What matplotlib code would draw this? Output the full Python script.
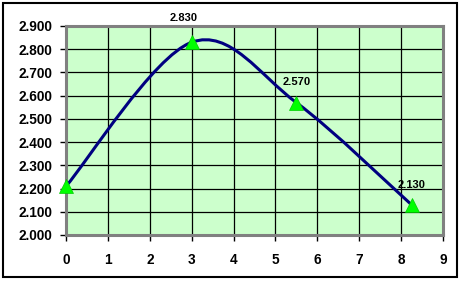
import numpy as np
import matplotlib
matplotlib.use("Agg")
import matplotlib.pyplot as plt
from matplotlib.path import Path
from matplotlib.patches import PathPatch, Rectangle

# data
x_vals = [0.0, 3.0, 5.5, 8.25]
y_vals = [2.21, 2.83, 2.57, 2.13]
labelled = [False, True, True, True]
x_ticks = list(range(0, 10))
y_ticks = [2.0, 2.1, 2.2, 2.3, 2.4, 2.5, 2.6, 2.7, 2.8, 2.9]

# label offsets (points) for the data labels
label_offsets = [(0, 11), (-6, 14), (0, 11), (0, 11)]

plt.rcParams["font.family"] = ["Liberation Sans", "DejaVu Sans"]

fig = plt.figure(figsize=(4.62, 2.81), dpi=100)
ax = fig.add_axes([66 / 462, 1 - 235 / 281, (443 - 66) / 462, (235 - 26) / 281])
ax.set_facecolor("#CCFFCC")

# smoothed line like Excel: cubic bezier segments through the points
pts = np.column_stack([x_vals, y_vals])
verts = [tuple(pts[0])]
codes = [Path.MOVETO]
n = len(pts)
for i in range(n - 1):
    p_prev = pts[i - 1] if i > 0 else pts[i]
    p0 = pts[i]
    p1 = pts[i + 1]
    p_next = pts[i + 2] if i + 2 < n else p1
    c1 = p0 + (p1 - p_prev) / 6.0
    c2 = p1 - (p_next - p0) / 6.0
    verts += [tuple(c1), tuple(c2), tuple(p1)]
    codes += [Path.CURVE4] * 3
curve = PathPatch(Path(verts, codes), facecolor="none", edgecolor="#000080",
                  linewidth=2.2, zorder=3, clip_on=False)
ax.add_patch(curve)

ax.plot(x_vals, y_vals, linestyle="none", marker="^", markersize=10,
        color="#00FF00", markeredgecolor="#00CC00", markeredgewidth=0.5,
        zorder=4, clip_on=False)

for xv, yv, show, off in zip(x_vals, y_vals, labelled, label_offsets):
    if show:
        ax.annotate(f"{yv:.3f}", (xv, yv), xytext=off, textcoords="offset points",
                    ha="center", va="bottom", fontsize=8, fontweight="bold",
                    annotation_clip=False, zorder=5)

ax.set_xlim(0, 9)
ax.set_ylim(2.0, 2.9)
ax.set_xticks(x_ticks)
ax.set_yticks(y_ticks)
ax.set_yticklabels([f"{v:.3f}" for v in y_ticks])
ax.grid(True, color="black", linewidth=0.9)
ax.set_axisbelow(True)
for side in ["top", "right", "left", "bottom"]:
    ax.spines[side].set_color("#808080")
    ax.spines[side].set_linewidth(2.2)
ax.tick_params(axis="x", length=4, width=1, color="black", pad=9, labelsize=9.8)
ax.tick_params(axis="y", length=4, width=1, color="black", pad=6, labelsize=9.8)
for lab in ax.get_xticklabels() + ax.get_yticklabels():
    lab.set_fontweight("bold")

# outer chart border
fig.patches.append(Rectangle((3 / 462, 4 / 281), 454 / 462, 274 / 281,
                             transform=fig.transFigure, fill=False,
                             edgecolor="black", linewidth=1.5))

fig.savefig("out.png", dpi=100, facecolor="white")
